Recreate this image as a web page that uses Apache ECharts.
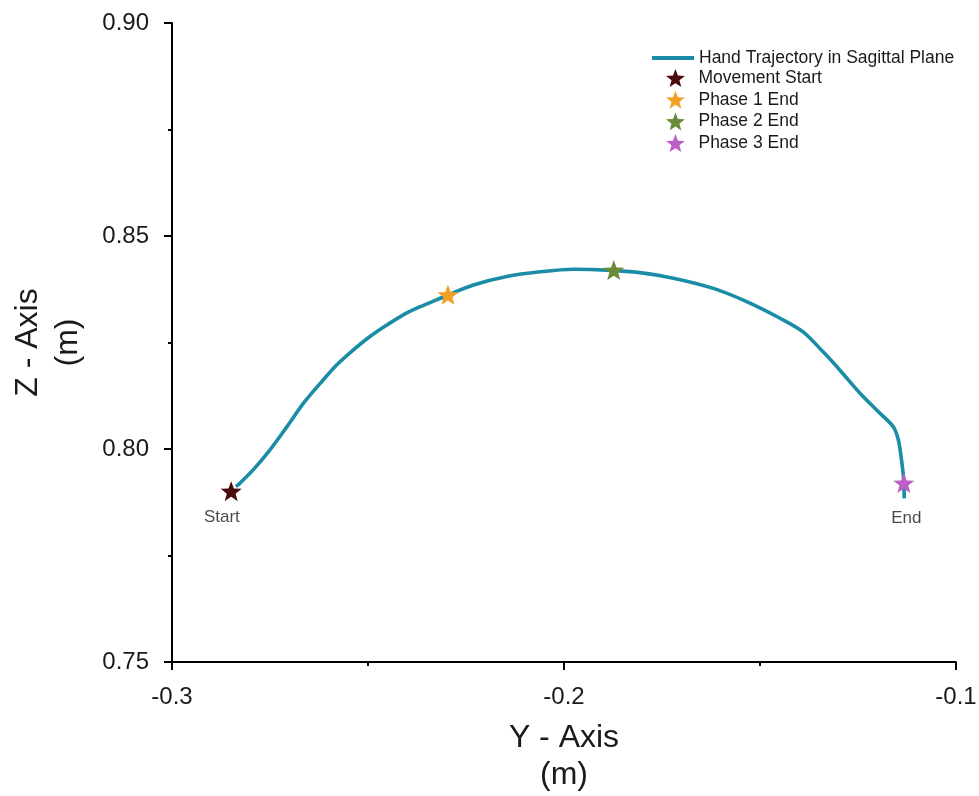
<!DOCTYPE html>
<html>
<head>
<meta charset="utf-8">
<title>Hand Trajectory in Sagittal Plane</title>
<script src="https://cdn.jsdelivr.net/npm/echarts@6/dist/echarts.min.js"></script>
<style>
  html, body { margin: 0; padding: 0; background: #ffffff; }
  #chart { width: 979px; height: 796px; }
</style>
</head>
<body>
<div id="chart"></div>
<script>
// Hand trajectory in the sagittal plane: horizontal Y coordinate (m) and vertical Z coordinate (m)
const trajY = [
  -0.2837, -0.2831, -0.2793, -0.2750, -0.2707, -0.2665, -0.2622, -0.2580, -0.2538, -0.2495,
  -0.2452, -0.2410, -0.2367, -0.2325, -0.2295, -0.2231, -0.2146, -0.2061, -0.1976, -0.1891,
  -0.1806, -0.1721, -0.1619, -0.1534, -0.1449, -0.1390, -0.1339, -0.1296, -0.1245, -0.1194,
  -0.1160, -0.1147, -0.1139, -0.1134, -0.1133, -0.1132
];
const trajZ = [
  0.7912, 0.7916, 0.7951, 0.7998, 0.8052, 0.8107, 0.8154, 0.8197, 0.8232, 0.8264,
  0.8291, 0.8315, 0.8334, 0.8350, 0.8362, 0.8385, 0.8405, 0.8416, 0.8422, 0.8420,
  0.8414, 0.8401, 0.8377, 0.8346, 0.8307, 0.8275, 0.8228, 0.8185, 0.8131, 0.8084,
  0.8052, 0.8021, 0.7974, 0.7935, 0.7920, 0.7884
];

// Movement event markers
const markerNames = ['Movement Start', 'Phase 1 End', 'Phase 2 End', 'Phase 3 End'];
const markerY = [-0.2849, -0.2296, -0.1873, -0.1133];
const markerZ = [0.7901, 0.8362, 0.8420, 0.7920];

// Axis ticks
const yAxisTicks = [-0.3, -0.2, -0.1];
const zAxisTicks = [0.75, 0.80, 0.85, 0.90];

const lineName = 'Hand Trajectory in Sagittal Plane';
const lineColor = '#1b8ca6';
const markerColors = ['#4e0b0e', '#f2a126', '#6a8c3a', '#bb5fc7'];
const FONT = '"Liberation Sans", Arial, sans-serif';
const STAR = 'path://M10 0 L12.47 6.6 L19.51 6.91 L13.99 11.3 L15.88 18.09 L10 14.2 L4.12 18.09 L6.01 11.3 L0.49 6.91 L7.53 6.6 Z';

const trajectory = trajY.map((y, i) => [y, trajZ[i]]);

const series = [{
  name: lineName,
  type: 'line',
  data: trajectory,
  smooth: 0.3,
  symbol: 'none',
  showSymbol: false,
  lineStyle: { color: lineColor, width: 3.6 },
  itemStyle: { color: lineColor },
  z: 2
}];

markerNames.forEach((name, i) => {
  series.push({
    name: name,
    type: 'scatter',
    data: [[markerY[i], markerZ[i]]],
    symbol: STAR,
    symbolKeepAspect: true,
    symbolSize: 21,
    itemStyle: { color: markerColors[i], opacity: 1 },
    z: 5
  });
});

// Start / End annotations at the two ends of the trajectory
series.push({
  name: 'annotations',
  type: 'scatter',
  symbolSize: 0,
  silent: true,
  data: [
    { name: 'Start', value: trajectory[0], label: { offset: [-14, 31] } },
    { name: 'End', value: trajectory[trajectory.length - 1], label: { offset: [2, 20] } }
  ],
  label: {
    show: true,
    position: 'inside',
    formatter: '{b}',
    fontFamily: FONT,
    fontSize: 17,
    color: '#1a1a1a'
  },
  z: 6
});

const chart = echarts.init(document.getElementById('chart'), null, { renderer: 'canvas' });

chart.setOption({
  backgroundColor: '#ffffff',
  animation: false,
  grid: { left: 172, right: 23, top: 23, bottom: 134, containLabel: false, outerBoundsMode: 'none' },
  legend: [{
    data: [{ name: lineName, icon: 'rect' }],
    left: 652,
    top: 49,
    padding: 0,
    orient: 'vertical',
    itemWidth: 42,
    itemHeight: 4,
    textStyle: { fontFamily: FONT, fontSize: 17.5, color: '#1a1a1a' }
  }, {
    data: markerNames,
    icon: STAR,
    symbolKeepAspect: true,
    left: 666,
    top: 69,
    padding: 0,
    orient: 'vertical',
    itemWidth: 36,
    itemHeight: 18,
    itemGap: 3.7,
    textStyle: { fontFamily: FONT, fontSize: 17.5, color: '#1a1a1a', lineHeight: 18 }
  }],
  xAxis: {
    type: 'value',
    min: yAxisTicks[0],
    max: yAxisTicks[yAxisTicks.length - 1],
    interval: 0.1,
    name: 'Y - Axis\n(m)',
    nameLocation: 'middle',
    nameGap: 58,
    nameTextStyle: { fontFamily: FONT, fontSize: 32, color: '#1a1a1a', lineHeight: 37 },
    axisLine: { onZero: false, lineStyle: { color: '#000', width: 2 } },
    axisTick: { show: true, length: 8, lineStyle: { color: '#000', width: 2 } },
    minorTick: { show: true, splitNumber: 2, length: 4, lineStyle: { color: '#000', width: 2 } },
    splitLine: { show: false },
    axisLabel: {
      margin: 23,
      fontFamily: FONT,
      fontSize: 24,
      color: '#1a1a1a',
      formatter: v => v.toFixed(1)
    }
  },
  yAxis: {
    type: 'value',
    min: zAxisTicks[0],
    max: zAxisTicks[zAxisTicks.length - 1],
    interval: 0.05,
    name: 'Z - Axis\n(m)',
    nameLocation: 'middle',
    nameRotate: 90,
    nameGap: 84,
    nameTextStyle: { fontFamily: FONT, fontSize: 32, color: '#1a1a1a', lineHeight: 40 },
    axisLine: { onZero: false, lineStyle: { color: '#000', width: 2 } },
    axisTick: { show: true, length: 8, lineStyle: { color: '#000', width: 2 } },
    minorTick: { show: true, splitNumber: 2, length: 4, lineStyle: { color: '#000', width: 2 } },
    splitLine: { show: false },
    axisLabel: {
      margin: 23,
      fontFamily: FONT,
      fontSize: 24,
      color: '#1a1a1a',
      formatter: v => v.toFixed(2)
    }
  },
  series: series
});
</script>
</body>
</html>
